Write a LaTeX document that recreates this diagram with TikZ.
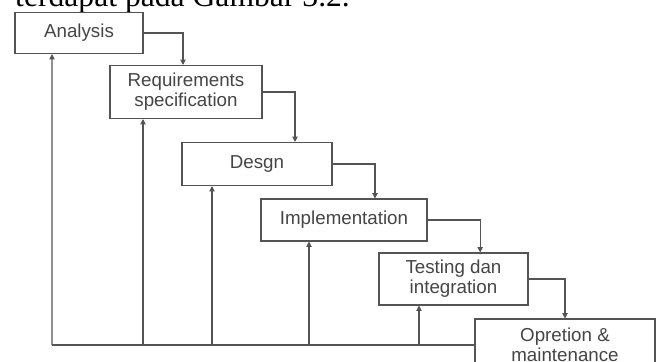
\documentclass[tikz,border=0pt]{standalone}
\usepackage{fontspec}
\setmainfont{Liberation Sans}
\newfontfamily\pagefont{Liberation Serif}
\usetikzlibrary{arrows.meta}
\usetikzlibrary{positioning}

\begin{document}
\begin{tikzpicture}[x=0.03cm,y=-0.03cm]

		    \definecolor{linecolor}{rgb}{0.33,0.33,0.33}
		    \definecolor{textcolor}{rgb}{0.27,0.27,0.27}
		    \tikzset{phase/.style={draw=linecolor,line width=0.9pt,fill=white,align=center,inner sep=0pt,text=textcolor,font=\fontsize{16}{17}\selectfont}}
		    \tikzset{flow/.style={draw=linecolor,line width=0.9pt,-{Triangle[length=4.5pt,width=4.5pt]}}}

		    \useasboundingbox (0,0) rectangle (659,362);
		    \clip (0,0) rectangle (659,362);

		    % line of the page above the figure, cut off
		    \node(pagetext) [anchor=base west,inner sep=0pt,font=\pagefont\fontsize{27}{30}\selectfont] at (15,6) {terdapat pada Gambar 3.2.};

		    \node(analysis) [phase,minimum width=3.84cm,minimum height=1.23cm] at (79,33) {Analysis};
		    \node(reqspec) [phase,minimum width=4.56cm,minimum height=1.59cm] at (186,92) {Requirements\\specification};
		    \node(design) [phase,minimum width=4.5cm,minimum height=1.29cm] at (257,164) {Desgn};
		    \node(implement) [phase,minimum width=4.98cm,minimum height=1.26cm] at (344,220) {Implementation};
		    \node(testing) [phase,minimum width=4.47cm,minimum height=1.56cm] at (453.5,279) {Testing dan\\integration};
		    \node(operation) [phase,minimum width=5.4cm,minimum height=1.56cm] at (565,345) {Opretion \&\\maintenance};

		    \draw[flow] (analysis.east) -| ([xshift=-0.09cm]reqspec.north);
		    \draw[flow] (reqspec.east) -| ([xshift=1.14cm]design.north);
		    \draw[flow] (design.east) -| ([xshift=0.93cm]implement.north);
		    \draw[flow] (implement.east) -| ([xshift=0.8cm]testing.north);
		    \draw[flow] (testing.east) -| (operation.north);

		    % feedback to every earlier phase
		    \coordinate(back) at (52,345);
		    \draw[draw=linecolor,line width=0.9pt] (operation.west) -- (back);
		    \draw[flow] (back) -- ([xshift=-0.81cm]analysis.south);
		    \draw[flow] ([xshift=-1.29cm]reqspec.south |- back) -- ([xshift=-1.29cm]reqspec.south);
		    \draw[flow] ([xshift=-1.35cm]design.south |- back) -- ([xshift=-1.35cm]design.south);
		    \draw[flow] ([xshift=-1.05cm]implement.south |- back) -- ([xshift=-1.05cm]implement.south);
		    \draw[flow] ([xshift=-1.035cm]testing.south |- back) -- ([xshift=-1.035cm]testing.south);

\end{tikzpicture}
\end{document}
